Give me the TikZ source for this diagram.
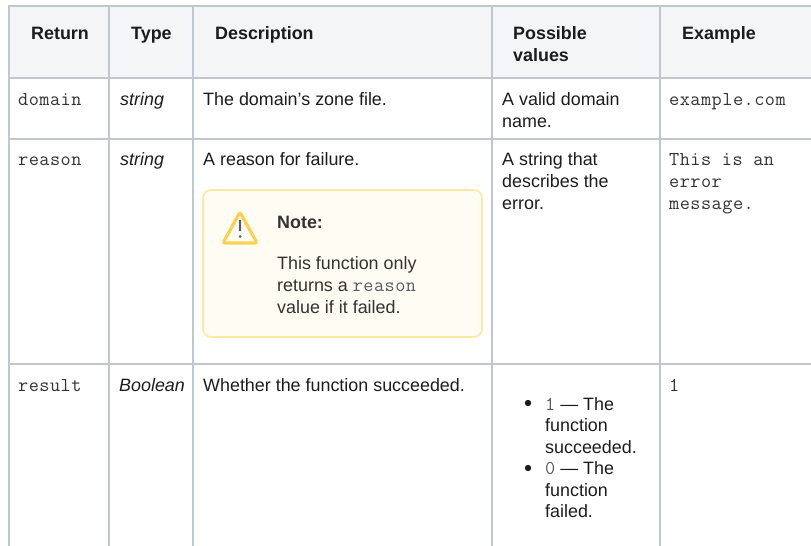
\documentclass[tikz,border=0pt]{standalone}
\usepackage{fontspec}
\setmainfont{Liberation Sans}
\setmonofont[Scale=1.1,LetterSpace=2.5]{Latin Modern Mono}
\usetikzlibrary{positioning}
\definecolor{grille}{HTML}{C1C7D0}
\definecolor{entete}{HTML}{F4F5F7}
\definecolor{txt}{HTML}{1C1C1C}
\definecolor{notetxt}{HTML}{333333}
\definecolor{code}{HTML}{333333}
\definecolor{notefond}{HTML}{FFFCF3}
\definecolor{notebord}{HTML}{FFE8A3}
\definecolor{alerte}{HTML}{FFD04F}
\definecolor{gris}{HTML}{555B66}

\begin{document}
\begin{tikzpicture}[x=1pt,y=-1pt,
  every node/.style={inner sep=0pt,anchor=base west,text=txt,font=\fontsize{17.9}{22}\selectfont},
  titre/.style={font=\fontsize{17.9}{22}\selectfont\bfseries},
  mono/.style={text=code,font=\fontsize{17.9}{22}\selectfont\ttfamily},
  typ/.style={font=\fontsize{17.9}{22}\selectfont\itshape},
  notetext/.style={text=notetxt},
  trait/.style={grille,line width=2pt},
  notebox/.style={draw=notebord,fill=notefond,line width=1.6pt,rounded corners=8pt}]
\useasboundingbox(0,0)rectangle(811,546);
\fill[entete](9,6)rectangle(811,78);
\draw[trait](9,6)--(811,6);
\draw[trait](9,78)--(811,78);
\draw[trait](9,139)--(811,139);
\draw[trait](9,364)--(811,364);
\draw[trait](9,5)--(9,546);
\draw[trait](109,5)--(109,546);
\draw[trait](193,5)--(193,546);
\draw[trait](492,5)--(492,546);
\draw[trait](660,5)--(660,546);

\node[titre](hRet)at(31,39){Return};
\node[titre](hType)at(131,39){Type};
\node[titre](hDesc)at(215,39){Description};
\node[titre](hVal)at(513,39){Possible};
\node[titre](hVal2)at(513,61){values};
\node[titre](hEx)at(682,39){Example};

\node[mono](rDomain)at(18,105){domain};
\node[typ](tDomain)at(120,105){string};
\node(dDomain)at(203,105){The domain's zone file.};
\node(vDomain)at(502,105){A valid domain};
\node(vDomain2)at(502,127){name.};
\node[mono](eDomain)at(669,105){example.com};

\node[mono](rReason)at(18,165){reason};
\node[typ](tReason)at(120,165){string};
\node(dReason)at(203,165){A reason for failure.};
\node(vReason)at(502,165){A string that};
\node(vReason2)at(502,187){describes the};
\node(vReason3)at(502,209){error.};
\node[mono](eReason)at(669,165){This is an};
\node[mono](eReason2)at(669,187){error};
\node[mono](eReason3)at(669,209){message.};

\draw[notebox](203,190)rectangle(482,337);
\draw[alerte,line width=3.2pt,rounded corners=2.5pt,fill=notefond](240,212)--(257,243)--(223,243)--cycle;
\draw[gris,line width=2.6pt](240,220)--(240,231);
\fill[gris](240,236.5)circle(1.5);
\node[titre,notetext](nTitre)at(277,228){Note:};
\node[notetext](nL1)at(277,269){This function only};
\node[notetext](nL2)at(277,291){returns a \textcolor{gris}{\ttfamily reason}};
\node[notetext](nL3)at(277,313){value if it failed.};

\node[mono](rResult)at(18,391){result};
\node[typ](tResult)at(119,391){Boolean};
\node(dResult)at(203,391){Whether the function succeeded.};
\node[mono](eResult)at(669,391){1};
\fill[txt](528,403)circle(3.2);
\node(vR1)at(545,410){\textcolor{gris}{\ttfamily 1} --- The};
\node(vR2)at(545,431.5){function};
\node(vR3)at(545,453){succeeded.};
\fill[txt](528,468)circle(3.2);
\node(vR4)at(545,474.5){\textcolor{gris}{\ttfamily 0} --- The};
\node(vR5)at(545,496){function};
\node(vR6)at(545,517.5){failed.};
\end{tikzpicture}
\end{document}
